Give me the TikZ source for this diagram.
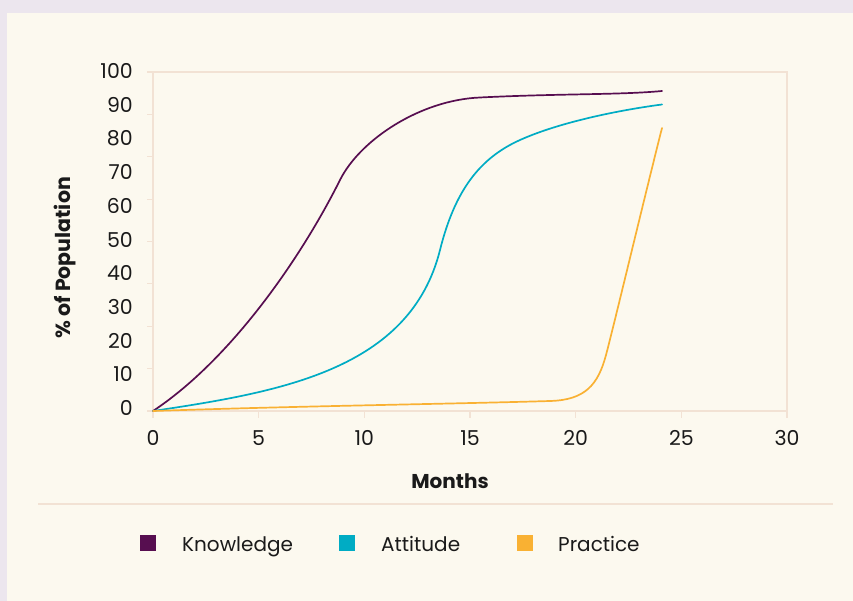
\documentclass[tikz,border=0pt]{standalone}
\usepackage{fontspec}
\setmainfont{Poppins}
\definecolor{bgouter}{HTML}{ECE6EE}
\definecolor{panel}{HTML}{FCF9EF}
\definecolor{gridline}{HTML}{F2E2D4}
\definecolor{know}{HTML}{570E50}
\definecolor{att}{HTML}{00ACC4}
\definecolor{prac}{HTML}{F9B133}
\definecolor{txt}{HTML}{1A1A1A}
\begin{document}
\begin{tikzpicture}[x=1pt,y=-1pt,
  axisline/.style={draw=gridline,line width=1.2pt},
  ticklabel/.style={font=\fontsize{20.5}{22}\selectfont, text=txt, inner sep=0pt},
  axtitle/.style={font=\bfseries\fontsize{20}{22}\selectfont, text=txt, inner sep=0pt},
  legtext/.style={font=\fontsize{20}{22}\selectfont, text=txt, inner sep=0pt, anchor=base west},
  curve/.style={line width=1.7pt, line cap=round, line join=round}]
\useasboundingbox (0,0) rectangle (853,601);
\fill[bgouter] (0,0) rectangle (853,601);
\fill[panel] (7,13) rectangle (853,601);
% plot frame
\draw[axisline] (153,72) rectangle (787,411);
% y ticks (8 intervals)
\foreach \k in {0,...,8}{
  \draw[axisline] (147,{411-\k*42.375}) -- (153,{411-\k*42.375});
}
% x ticks
\foreach \k in {0,...,6}{
  \draw[axisline] ({153+\k*105.667},411) -- ({153+\k*105.667},418);
}
% y labels
\foreach \v [count=\k from 0] in {0,10,...,100}{
  \node[ticklabel, anchor=east] (yl\k) at (133,{408-\k*33.7}) {\v};
}
% x labels
\foreach \v [count=\k from 0] in {0,5,...,30}{
  \node[ticklabel] (xl\k) at ({153+\k*105.667},438) {\v};
}
% axis titles
\node[axtitle] (xtitle) at (450,481) {Months};
\node[axtitle, rotate=90, font=\bfseries\fontsize{20.5}{22}\selectfont] (ytitle) at (65,258) {\% of Population};
% curves
\draw[curve, know] (153,411) .. controls (230,360) and (300,260) .. (340,180)
  .. controls (360,140) and (420,100) .. (480,97.5)
  .. controls (560,93.5) and (620,95) .. (662,91);
\draw[curve, att] (153,411) .. controls (280,392) and (410,370) .. (440,250)
  .. controls (455,190) and (480,158) .. (520,140)
  .. controls (560,122) and (620,110) .. (662,104.5);
\draw[curve, prac] (153,411) .. controls (300,406) and (450,404) .. (550,401)
  .. controls (585,400) and (598,385) .. (606,355)
  .. controls (614,325) and (645,195) .. (662,128);
% separator
\draw[draw=gridline, line width=2.6pt] (38,504) -- (833,504);
% legend
\fill[know] (140,535) rectangle (156,551);
\node[legtext] (lk) at (182,551) {Knowledge};
\fill[att] (339,535) rectangle (355,551);
\node[legtext] (la) at (381,551) {Attitude};
\fill[prac] (517,535) rectangle (533,551);
\node[legtext] (lp) at (558,551) {Practice};
\end{tikzpicture}
\end{document}
